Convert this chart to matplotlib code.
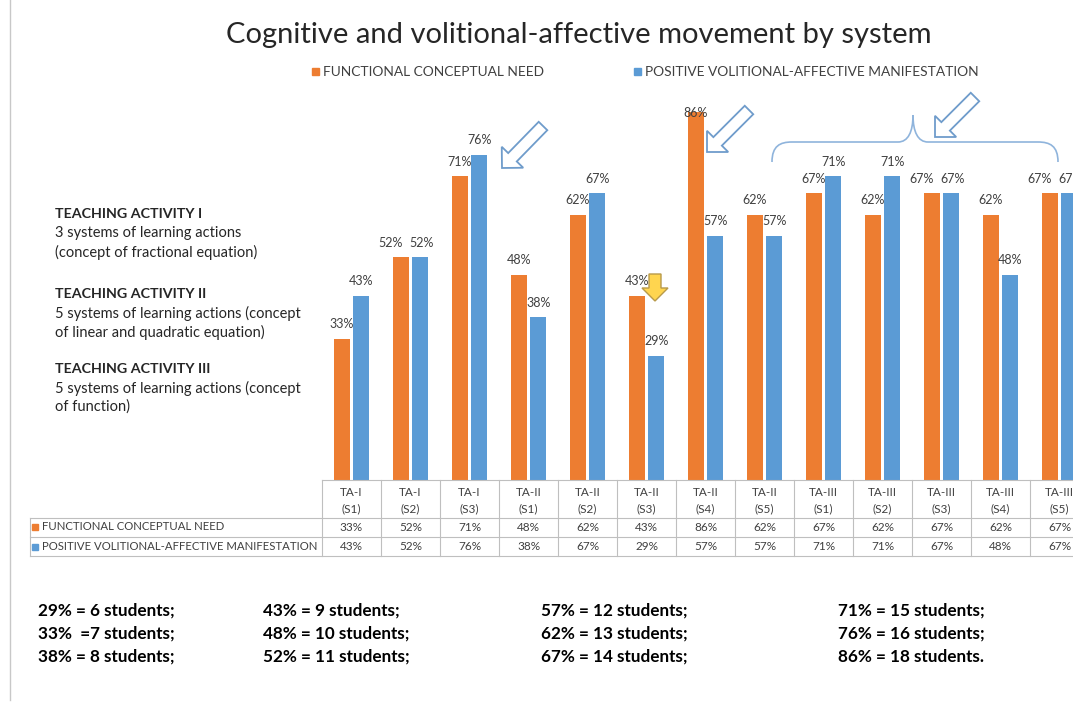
import matplotlib
matplotlib.use("Agg")
import matplotlib.pyplot as plt
import numpy as np
from matplotlib.patches import Polygon, Rectangle
from matplotlib.path import Path
from matplotlib.patches import PathPatch

plt.rcParams['font.family'] = ['Lato', 'DejaVu Sans']

activities = ["TA-I", "TA-I", "TA-I", "TA-II", "TA-II", "TA-II", "TA-II", "TA-II",
              "TA-III", "TA-III", "TA-III", "TA-III", "TA-III"]
systems = ["(S1)", "(S2)", "(S3)", "(S1)", "(S2)", "(S3)", "(S4)", "(S5)",
           "(S1)", "(S2)", "(S3)", "(S4)", "(S5)"]
functional_need = [33, 52, 71, 48, 62, 43, 86, 62, 67, 62, 67, 62, 67]
volitional_affective = [43, 52, 76, 38, 67, 29, 57, 57, 71, 71, 67, 48, 67]
series_names = ["FUNCTIONAL CONCEPTUAL NEED", "POSITIVE VOLITIONAL-AFFECTIVE MANIFESTATION"]

left_notes = [
    ("TEACHING ACTIVITY I", ["3 systems of learning actions", "(concept of fractional equation)"]),
    ("TEACHING ACTIVITY II", ["5 systems of learning actions (concept", "of linear and quadratic equation)"]),
    ("TEACHING ACTIVITY III", ["5 systems of learning actions (concept", "of function)"]),
]
student_notes = [
    ["29% = 6 students;", "33%  =7 students;", "38% = 8 students;"],
    ["43% = 9 students;", "48% = 10 students;", "52% = 11 students;"],
    ["57% = 12 students;", "62% = 13 students;", "67% = 14 students;"],
    ["71% = 15 students;", "76% = 16 students;", "86% = 18 students."],
]

ORANGE = "#ED7D31"
BLUE = "#5B9BD5"
TXT = "#404040"
GRID = "#BFBFBF"

W, H = 1073, 702
fig = plt.figure(figsize=(W / 100, H / 100), dpi=100)

# main axes (pixel geometry)
ax_left, ax_base, col_w, ppu = 322, 480, 59, 4.28
n = len(functional_need)
ax = fig.add_axes([ax_left / W, (H - ax_base) / H, n * col_w / W, 100 * ppu / H])
ax.set_xlim(-0.5, n - 0.5)
ax.set_ylim(0, 100)
ax.axis("off")

def dx(px):
    return -0.5 + (px - ax_left) / col_w

def dy(py):
    return (ax_base - py) / ppu

x = np.arange(n)
bw, off = 0.27, 0.165
ax.bar(x - off, functional_need, bw, color=ORANGE, zorder=2)
ax.bar(x + off, volitional_affective, bw, color=BLUE, zorder=2)

# data labels; labels of near-equal pairs are spread apart (as Excel does)
for i in range(n):
    a, b = functional_need[i], volitional_affective[i]
    tie = abs(a - b) < 3
    ax.text(i - off - (0.18 if tie else 0.0), min(a + 3.4, 85.7), f"{a}%", ha="center", va="center",
            fontsize=9, color=TXT, zorder=3)
    ax.text(i + off + (0.02 if tie else 0.0), min(b + 3.4, 85.7), f"{b}%", ha="center", va="center",
            fontsize=9, color=TXT, zorder=3)

# data table
xl_lab = dx(30)
xr = n - 0.5
y0, y1, y2, y3 = 0, dy(518), dy(537), dy(556)
kw = dict(color=GRID, lw=0.8, clip_on=False)
ax.plot([-0.5, xr], [y0, y0], **kw)
for yy in (y1, y2, y3):
    ax.plot([xl_lab, xr], [yy, yy], **kw)
ax.plot([xl_lab, xl_lab], [y1, y3], **kw)
for bnd in np.arange(-0.5, n, 1.0):
    ax.plot([bnd, bnd], [y0, y3], **kw)
for i in range(n):
    ax.text(i, dy(492), activities[i], ha="center", va="center", fontsize=8.5, color=TXT)
    ax.text(i, dy(509), systems[i], ha="center", va="center", fontsize=8.5, color=TXT)
    ax.text(i, (y1 + y2) / 2, f"{functional_need[i]}%", ha="center", va="center", fontsize=8.5, color=TXT)
    ax.text(i, (y2 + y3) / 2, f"{volitional_affective[i]}%", ha="center", va="center", fontsize=8.5, color=TXT)

# overlay axes in pixel coordinates for text and annotations
ov = fig.add_axes([0, 0, 1, 1], zorder=5)
ov.set_xlim(0, W)
ov.set_ylim(H, 0)
ov.axis("off")
ov.patch.set_alpha(0)

# row labels of table
for (yc, col, name) in ((527, ORANGE, series_names[0]), (547, BLUE, series_names[1])):
    ov.add_patch(Rectangle((32, yc - 3), 6, 6, color=col))
    ov.text(42, yc, name, ha="left", va="center", fontsize=8.2, color=TXT)

# left frame line
ov.plot([10, 10], [0, 700], color="#C8C8C8", lw=1)

ov.text(579, 35, "Cognitive and volitional-affective movement by system", ha="center", va="center",
        fontsize=21, color="#262626")

# legend
ov.add_patch(Rectangle((312, 68), 7, 7, color=ORANGE))
ov.text(323, 72, series_names[0], ha="left", va="center", fontsize=9.9, color=TXT)
ov.add_patch(Rectangle((634, 68), 7, 7, color=BLUE))
ov.text(645, 72, series_names[1], ha="left", va="center", fontsize=9.9, color=TXT)

# left notes
ys = [214, 294, 369]
for (title, lines), yy in zip(left_notes, ys):
    ov.text(55, yy, title, ha="left", va="center", fontsize=10.3, fontweight="bold", color="#262626")
    for k, ln in enumerate(lines):
        ov.text(55, yy + 19 * (k + 1), ln, ha="left", va="center", fontsize=10.5, color="#262626")

# student notes
xs = [38, 263, 541, 838]
for col, xx in zip(student_notes, xs):
    for k, s in enumerate(col):
        ov.text(xx, 611 + 23 * k, s, ha="left", va="center", fontsize=12.3, fontweight="bold", color="black")

def arrow_poly(tail, tip, shaft=12, head=30, head_len=15):
    t = np.array(tail, float); p = np.array(tip, float)
    d = p - t; L = np.hypot(*d); u = d / L; nrm = np.array([-u[1], u[0]])
    bb = p - u * head_len
    pts = [t + nrm * shaft / 2, bb + nrm * shaft / 2, bb + nrm * head / 2, p,
           bb - nrm * head / 2, bb - nrm * shaft / 2, t - nrm * shaft / 2]
    return np.array(pts)

ACOL = "#6F9CCB"
for tail, tip in (((543, 126), (502, 168)), ((749, 110), (707, 152)), ((975, 97), (935, 137))):
    ov.add_patch(Polygon(arrow_poly(tail, tip), closed=True, fill=False, edgecolor=ACOL, lw=1.3,
                         joinstyle="miter"))

# yellow arrow
ov.add_patch(Polygon(arrow_poly((655, 274), (655, 301), shaft=12, head=26, head_len=13), closed=True,
                     facecolor="#FFD54F", edgecolor="#B89A4A", lw=1))

# brace
ACOL2 = "#8FB4DC"
verts = [(772, 162), (772, 146), (780, 142), (792, 142),
         (898, 142), (908, 142), (913, 132), (913, 115)]
verts2 = [(1058, 162), (1058, 146), (1050, 142), (1038, 142),
          (928, 142), (918, 142), (913, 132), (913, 115)]
codes = [Path.MOVETO, Path.CURVE4, Path.CURVE4, Path.CURVE4,
         Path.LINETO, Path.CURVE4, Path.CURVE4, Path.CURVE4]
ov.add_patch(PathPatch(Path(verts, codes), fill=False, edgecolor=ACOL2, lw=1.2))
ov.add_patch(PathPatch(Path(verts2, codes), fill=False, edgecolor=ACOL2, lw=1.2))

fig.savefig("out.png", dpi=100)
